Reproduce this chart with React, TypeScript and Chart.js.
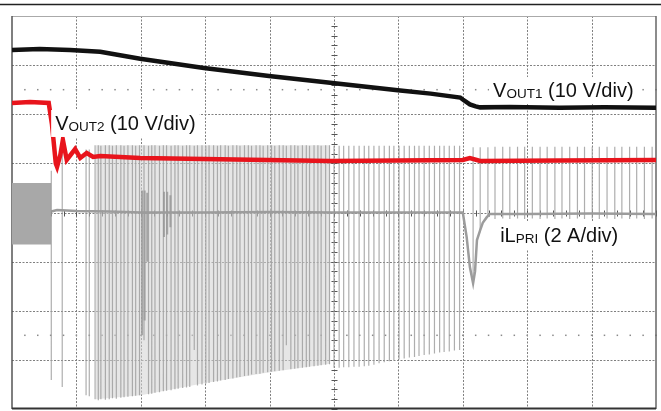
import React, { useEffect, useRef } from "react";
import { Chart, registerables } from "chart.js";

Chart.register(...registerables);

// Screen grid in divisions
const X_DIVS = [0, 1, 2, 3, 4, 5, 6, 7, 8, 9, 10];
const Y_DIVS = [-4, -3, -2, -1, 0, 1, 2, 3, 4];
const DOTTED_ROWS = [-2.5, 2.5];

// VOUT1 (black) – screen divisions
const vout1Time = [0, 0.43, 0.9, 1.37, 1.99, 2.98, 3.99, 4.94, 5.99, 6.5, 6.96, 7.0, 7.11, 7.2, 7.27, 7.73, 8.5, 9.2, 10];
const vout1Level = [3.31, 3.33, 3.31, 3.27, 3.13, 2.94, 2.78, 2.64, 2.49, 2.42, 2.34, 2.3, 2.2, 2.16, 2.14, 2.15, 2.13, 2.14, 2.13];

// VOUT2 (red)
const vout2Time = [0, 0.28, 0.57, 0.62, 0.68, 0.7, 0.75, 0.79, 0.85, 0.98, 1.06, 1.16, 1.26, 1.37, 1.99, 2.98, 4.94, 7.0, 7.11, 7.27, 8.5, 10];
const vout2Level = [2.23, 2.25, 2.23, 1.8, 1.0, 0.93, 1.17, 1.48, 1.07, 1.29, 1.11, 1.21, 1.13, 1.15, 1.11, 1.09, 1.05, 1.07, 1.11, 1.05, 1.06, 1.07];

// iL PRI (grey) baseline
const ilBaseTime = [0.61, 0.7, 1.0, 1.5, 2.0, 3.0, 4.0, 5.0, 6.0, 7.0, 7.06, 7.11, 7.16, 7.19, 7.22, 7.27, 7.31, 7.37, 7.42, 8.0, 9.0, 10];
const ilBaseLevel = [0.02, 0.05, 0.03, 0.02, 0.0, 0.0, 0.01, 0.0, 0.0, 0.0, -0.5, -1.11, -1.44, -1.2, -0.56, -0.36, -0.21, -0.1, -0.03, -0.03, -0.02, -0.03];

// iL PRI before the event: dense switching band
const ilStartTime = [0, 0.61];
const ilStartTop = [0.6, 0.6];
const ilStartBottom = [-0.65, -0.65];

// iL PRI dense switching envelope (light fill)
const ilDenseTime = [1.3, 2.0, 3.0, 4.0, 4.94];
const ilDenseTop = [1.37, 1.37, 1.37, 1.37, 1.37];
const ilDenseBottom = [-3.8, -3.72, -3.47, -3.25, -3.08];

// iL PRI individual switching spikes
const ilSpikeTime = [
  0.61, 0.78, 1.15, 1.2,
  1.29, 1.34, 1.38, 1.45, 1.51, 1.56, 1.62, 1.69, 1.74, 1.8, 1.87, 1.92, 1.98, 2.05, 2.12, 2.17,
  2.22, 2.29, 2.35, 2.4, 2.47, 2.53, 2.58, 2.65, 2.71, 2.76, 2.83, 2.88, 2.95, 3.01, 3.06, 3.13,
  3.19, 3.24, 3.31, 3.36, 3.43, 3.49, 3.54, 3.61, 3.67, 3.72, 3.79, 3.85, 3.9, 3.97, 4.03, 4.08,
  4.15, 4.21, 4.26, 4.33, 4.39, 4.44, 4.51, 4.57, 4.62, 4.69, 4.75, 4.8, 4.87, 4.93,
  5.0, 5.08, 5.15, 5.23, 5.31, 5.39, 5.47, 5.54, 5.62, 5.7, 5.78, 5.86, 5.93, 6.01, 6.09, 6.17,
  6.25, 6.32, 6.4, 6.48, 6.56, 6.64, 6.71, 6.79, 6.87, 6.95,
  7.16, 7.27, 7.39,
  7.5, 7.62, 7.73, 7.85, 7.96, 8.08, 8.2, 8.31, 8.43, 8.54, 8.66, 8.78, 8.89, 9.01, 9.12, 9.24,
  9.36, 9.47, 9.59, 9.7, 9.82, 9.94,
];
const ilSpikeLow = [
  -3.41, -3.55, -3.72, -3.74,
  -3.8, -3.82, -3.8, -3.81, -3.8, -3.78, -3.79, -3.77, -3.76, -3.75, -3.74, -3.73, -3.72, -2.6, -3.7, -3.69,
  -3.67, -3.66, -3.64, -3.63, -3.62, -3.6, -3.59, -3.57, -3.56, -3.55, -2.8, -3.52, -3.5, -3.48, -3.47, -3.45,
  -3.44, -3.42, -3.41, -3.39, -3.38, -3.36, -3.35, -3.33, -3.32, -3.3, -3.29, -3.28, -3.26, -3.25, -3.24, -3.23,
  -3.22, -3.21, -2.7, -3.19, -3.18, -3.17, -3.16, -3.15, -3.14, -3.13, -3.12, -3.11, -3.1, -3.09,
  -3.16, -3.16, -3.15, -3.15, -3.14, -3.14, -3.13, -3.12, -3.1, -3.07, -3.05, -3.03, -3.01, -2.99, -2.97, -2.95,
  -2.94, -2.92, -2.9, -2.89, -2.87, -2.85, -2.84, -2.83, -2.81, -2.8,
  -1.3, -0.4, -0.08,
  -0.13, -0.12, -0.13, -0.12, -0.13, -0.12, -0.13, -0.12, -0.13, -0.12, -0.13, -0.12, -0.13, -0.12, -0.13, -0.12,
  -0.13, -0.12, -0.13, -0.12, -0.13, -0.12,
];
const ilSpikeHigh = [
  0.85, 1.45, 1.28, 1.28,
  1.37, 1.37, 1.36, 1.37, 1.37, 1.36, 1.37, 1.37, 1.36, 1.37, 1.37, 1.36, 1.37, 1.37, 1.36, 1.37,
  1.37, 1.36, 1.37, 1.37, 1.36, 1.37, 1.37, 1.36, 1.37, 1.37, 1.36, 1.37, 1.37, 1.36, 1.37, 1.37,
  1.36, 1.37, 1.37, 1.36, 1.37, 1.37, 1.36, 1.37, 1.37, 1.36, 1.37, 1.37, 1.36, 1.37, 1.37, 1.36,
  1.37, 1.37, 1.36, 1.37, 1.37, 1.36, 1.37, 1.37, 1.36, 1.37, 1.37, 1.36, 1.37, 1.37,
  1.36, 1.36, 1.36, 1.36, 1.36, 1.36, 1.36, 1.36, 1.36, 1.36, 1.36, 1.36, 1.36, 1.36, 1.36, 1.36,
  1.36, 1.36, 1.36, 1.36, 1.36, 1.36, 1.36, 1.36, 1.36, 1.36,
  1.33, 1.33, 1.33,
  1.34, 1.34, 1.34, 1.34, 1.34, 1.34, 1.34, 1.34, 1.34, 1.34, 1.34, 1.34, 1.34, 1.34, 1.34, 1.34,
  1.34, 1.34, 1.34, 1.34, 1.34, 1.34,
];

// ringing bursts on the iL baseline
const ilBurstTime = [2.02, 2.06, 2.1, 2.36, 2.41, 2.46];
const ilBurstLow = [-2.5, -2.2, -1.0, -0.5, -0.45, -0.3];
const ilBurstHigh = [0.45, 0.45, 0.4, 0.42, 0.42, 0.35];

// Trace labels
const labelMain = ["V", "V", "iL"];
const labelSub = ["OUT1", "OUT2", "PRI"];
const labelTail = [" (10 V/div)", " (10 V/div)", " (2 A/div)"];
const labelX = [7.47, 0.67, 7.58];
const labelY = [2.35, 1.68, -0.6];

const pts = (t: number[], v: number[]) => t.map((x, i) => ({ x, y: v[i] }));
const spikes = (t: number[], lo: number[], hi: number[]) =>
  t.flatMap((x, i) => [
    { x, y: lo[i] },
    { x, y: hi[i] },
    { x, y: null as any },
  ]);

const FONT = '"Liberation Sans", Arial, sans-serif';

const scopePlugin = {
  id: "scopeGrid",
  beforeDatasetsDraw(chart: any) {
    const { ctx, chartArea: a, scales } = chart;
    const xs = scales.x;
    const ys = scales.y;
    ctx.save();
    // top rule
    ctx.strokeStyle = "#222";
    ctx.lineWidth = 1.5;
    ctx.beginPath();
    ctx.moveTo(0, a.top - 11.5);
    ctx.lineTo(chart.width, a.top - 11.5);
    ctx.stroke();

    // grid
    ctx.strokeStyle = "#808080";
    ctx.lineWidth = 1;
    ctx.setLineDash([2, 1.5]);
    X_DIVS.forEach((d) => {
      if (d === 0 || d === 10) return;
      const px = Math.round(xs.getPixelForValue(d)) + 0.5;
      ctx.beginPath();
      ctx.moveTo(px, a.top);
      ctx.lineTo(px, a.bottom);
      ctx.stroke();
    });
    Y_DIVS.forEach((d) => {
      if (d === -4 || d === 4) return;
      const py = Math.round(ys.getPixelForValue(d)) + 0.5;
      ctx.beginPath();
      ctx.moveTo(a.left, py);
      ctx.lineTo(a.right, py);
      ctx.stroke();
    });
    ctx.setLineDash([]);

    // centre ticks
    ctx.strokeStyle = "#555";
    const cx = Math.round(xs.getPixelForValue(5)) + 0.5;
    const cy = Math.round(ys.getPixelForValue(0)) + 0.5;
    for (let v = -4; v <= 4.001; v += 0.2) {
      const py = Math.round(ys.getPixelForValue(v)) + 0.5;
      ctx.beginPath();
      ctx.moveTo(cx - 3, py);
      ctx.lineTo(cx + 3, py);
      ctx.stroke();
    }
    for (let h = 0; h <= 10.001; h += 0.2) {
      const px = Math.round(xs.getPixelForValue(h)) + 0.5;
      ctx.beginPath();
      ctx.moveTo(px, cy - 3);
      ctx.lineTo(px, cy + 3);
      ctx.stroke();
    }

    // dotted rows
    ctx.fillStyle = "#8a8a8a";
    DOTTED_ROWS.forEach((d) => {
      const py = ys.getPixelForValue(d);
      for (let h = 0.2; h < 10; h += 0.2) {
        const px = xs.getPixelForValue(h);
        ctx.fillRect(px - 0.75, py - 0.75, 1.5, 1.5);
      }
    });

    // frame
    ctx.strokeStyle = "#aaa";
    ctx.lineWidth = 1;
    ctx.beginPath();
    ctx.moveTo(a.left, a.top + 0.5);
    ctx.lineTo(a.right, a.top + 0.5);
    ctx.stroke();
    ctx.strokeStyle = "#555";
    ctx.lineWidth = 1.5;
    ctx.beginPath();
    ctx.moveTo(a.left, a.top);
    ctx.lineTo(a.left, a.bottom);
    ctx.stroke();
    ctx.strokeStyle = "#666";
    ctx.beginPath();
    ctx.moveTo(a.right, a.top);
    ctx.lineTo(a.right, a.bottom);
    ctx.stroke();
    ctx.strokeStyle = "#333";
    ctx.lineWidth = 2;
    ctx.beginPath();
    ctx.moveTo(a.left, a.bottom - 0.5);
    ctx.lineTo(a.right, a.bottom - 0.5);
    ctx.stroke();
    ctx.restore();
  },
  afterDatasetsDraw(chart: any) {
    const { ctx, scales } = chart;
    ctx.save();
    ctx.textBaseline = "alphabetic";
    labelMain.forEach((m, i) => {
      const px = scales.x.getPixelForValue(labelX[i]);
      const py = scales.y.getPixelForValue(labelY[i]);
      ctx.font = `20px ${FONT}`;
      const w1 = ctx.measureText(m).width;
      const w3 = ctx.measureText(labelTail[i]).width;
      ctx.font = `13.5px ${FONT}`;
      const w2 = ctx.measureText(labelSub[i]).width;
      ctx.fillStyle = "#fff";
      ctx.fillRect(px - 4, py - 20, w1 + w2 + w3 + 8, 27);
      ctx.fillStyle = "#111";
      ctx.font = `20px ${FONT}`;
      ctx.fillText(m, px, py);
      ctx.fillText(labelTail[i], px + w1 + w2, py);
      ctx.font = `13.5px ${FONT}`;
      ctx.fillText(labelSub[i], px + w1, py + 1);
    });
    ctx.restore();
  },
};

export default function App() {
  const ref = useRef<HTMLCanvasElement | null>(null);
  useEffect(() => {
    if (!ref.current) return;
    const line = (data: any[], color: string, width: number, order: number, extra: any = {}) => ({
      type: "line",
      data,
      borderColor: color,
      borderWidth: width,
      pointRadius: 0,
      tension: 0,
      fill: false,
      spanGaps: false,
      order,
      ...extra,
    });
    const chart = new Chart(ref.current, {
      type: "line",
      data: {
        datasets: [
          line(pts(vout1Time, vout1Level), "#111", 4.5, 0),
          line(pts(vout2Time, vout2Level), "#e8141c", 4.5, 1),
          line(pts(ilBaseTime, ilBaseLevel), "#9c9c9c", 2.5, 2),
          line(spikes(ilBurstTime, ilBurstLow, ilBurstHigh), "rgba(150,150,150,0.8)", 2, 3),
          line(spikes(ilSpikeTime, ilSpikeLow, ilSpikeHigh), "rgba(160,160,160,0.85)", 1.2, 4),
          line(pts(ilDenseTime, ilDenseTop), "rgba(0,0,0,0)", 0, 5, {
            fill: "+1",
            backgroundColor: "rgba(210,210,210,0.55)",
          }),
          line(pts(ilDenseTime, ilDenseBottom), "rgba(0,0,0,0)", 0, 6),
          line(pts(ilStartTime, ilStartTop), "rgba(0,0,0,0)", 0, 7, {
            fill: "+1",
            backgroundColor: "#a8a8a8",
          }),
          line(pts(ilStartTime, ilStartBottom), "rgba(0,0,0,0)", 0, 8),
        ] as any,
      },
      options: {
        animation: false,
        responsive: false,
        maintainAspectRatio: false,
        layout: { padding: { left: 12, right: 5, top: 16, bottom: 2 } },
        scales: {
          x: { type: "linear", min: 0, max: 10, display: false },
          y: { type: "linear", min: -4, max: 4, display: false },
        },
        plugins: {
          legend: { display: false },
          tooltip: { enabled: false },
        },
        events: [],
      } as any,
      plugins: [scopePlugin],
    });
    return () => chart.destroy();
  }, []);
  return (
    <div style={{ position: "fixed", left: 0, top: 0, width: 661, height: 411, background: "#fff" }}>
      <canvas ref={ref} width={661} height={411} style={{ width: 661, height: 411, display: "block" }} />
    </div>
  );
}
